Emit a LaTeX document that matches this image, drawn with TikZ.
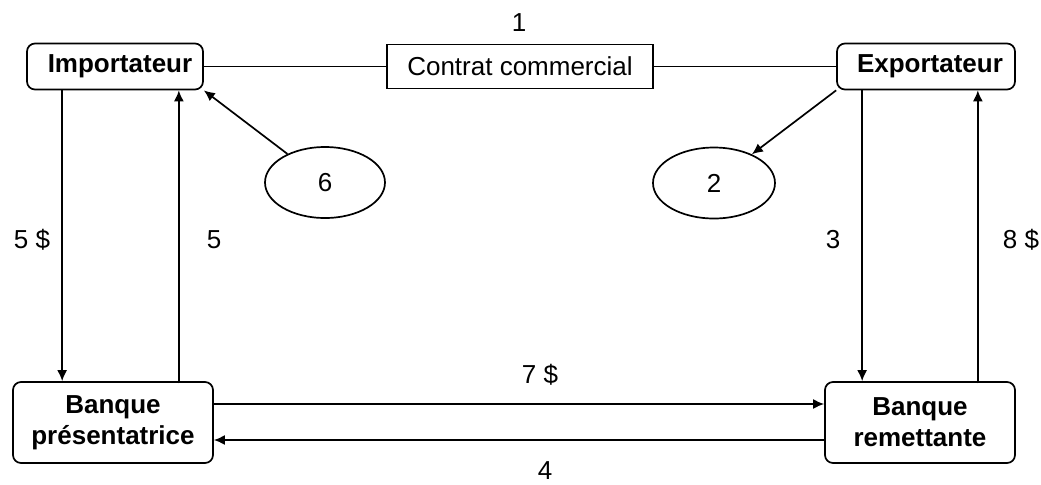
\documentclass[tikz,border=0pt]{standalone}
\usepackage{fontspec}
\setmainfont{Liberation Sans}
\usepackage{tikz}
\usetikzlibrary{shapes.geometric, arrows.meta}

\begin{document}
\begin{tikzpicture}[x=0.5pt, y=-0.5pt, line width=0.85pt,
  font=\fontsize{13}{15.5}\selectfont,
  acteur/.style={draw, rounded corners=4pt, font=\fontsize{13}{15.5}\selectfont\bfseries, align=center, inner sep=0pt},
  etape/.style={draw, ellipse, minimum width=60pt, minimum height=35.5pt, inner sep=0pt},
  fleche/.style={-{Latex[length=5.5pt,width=5pt]}}]

\useasboundingbox (0,0) rectangle (1041,484);

\node[acteur, minimum width=88pt, minimum height=23pt] (imp) at (115,66.5) {\hspace{5pt}Importateur};
\node[acteur, minimum width=89pt, minimum height=23pt] (exp) at (926,66.5) {\hspace{4pt}Exportateur};
\node[draw, minimum width=133pt, minimum height=22pt, inner sep=0pt] (contrat) at (520,66.5) {Contrat commercial};
\node[acteur, minimum width=100pt, minimum height=40.5pt] (bp) at (113,422.5) {Banque\\présentatrice};
\node[acteur, minimum width=95pt, minimum height=40.5pt] (br) at (920,422.5) {Banque\\remettante};

\node[etape] (e6) at (325,182.5) {6};
\node[etape, minimum width=61pt] (e2) at (714,183) {2};

\draw (imp.east) -- (contrat.west);
\draw (contrat.east) -- (exp.west);
\node (n1) at (519,23) {1};

\draw[fleche] (e6) -- (imp.south east);
\draw[fleche] (exp.south west) -- (e2);

% flux cote importateur
\draw[fleche] ([xshift=18pt]imp.south west) coordinate (a1) -- (a1 |- bp.north);
\draw[fleche] ([xshift=-12.5pt]imp.south east) coordinate (a2) ++(0,293) -- (a2);
\node (n5d) at (32,240) {5 \$};
\node (n5) at (214,240) {5};

% flux cote exportateur
\draw[fleche] ([xshift=13pt]exp.south west) coordinate (b1) -- (b1 |- br.north);
\draw[fleche] ([xshift=-19pt]exp.south east) coordinate (b2) ++(0,293) -- (b2);
\node (n3) at (833,240) {3};
\node (n8) at (1021,240) {8 \$};

% entre les banques
\draw[fleche] ([yshift=9.25pt]bp.east) coordinate (c1) -- (c1 -| br.west);
\draw[fleche] ([yshift=-8.75pt]br.west) coordinate (c2) -- (c2 -| bp.east);
\node (n7) at (540,375) {7 \$};
\node (n4) at (545,471) {4};

\end{tikzpicture}
\end{document}
